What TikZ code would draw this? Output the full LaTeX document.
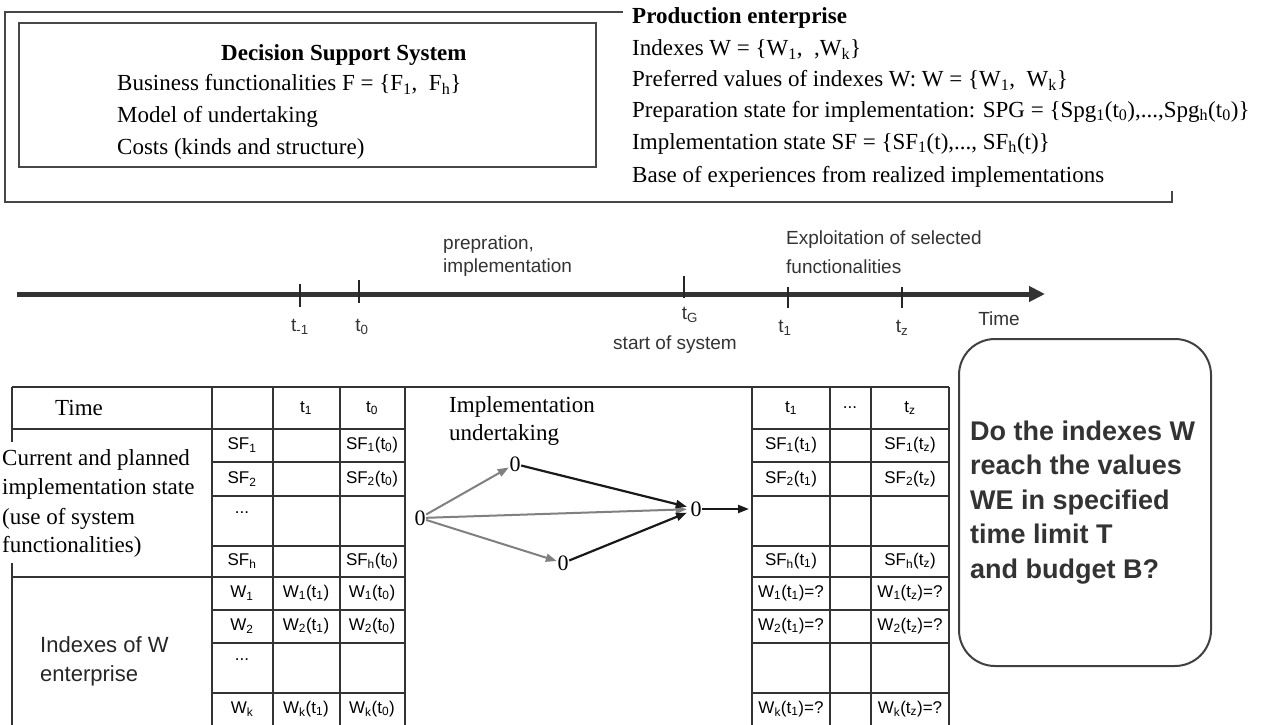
\documentclass[tikz,border=0pt]{standalone}
\usepackage{fontspec}
\setmainfont{Liberation Serif}
\setsansfont{Liberation Sans}
\usetikzlibrary{arrows.meta}
\newcommand\sbs[1]{\textsubscript{#1}}
\newcommand\tdots{...}
\begin{document}
\begin{tikzpicture}[x=1pt,y=-1pt,
  frm/.style={draw=black!72, line width=2pt},
  tline/.style={draw=black!80, line width=1.6pt},
  sertext/.style={font=\fontsize{23}{28}\selectfont, inner sep=0pt, anchor=base west},
  tl/.style={font=\sffamily\fontsize{19}{23}\selectfont, text=black!80, inner sep=0pt},
  cell/.style={font=\sffamily\fontsize{17}{20}\selectfont, inner sep=0pt},
  knot/.style={font=\fontsize{22}{26}\selectfont, inner sep=0.5pt},
  garr/.style={draw=black!50, line width=2pt, -{Triangle[length=11pt,width=8pt]}},
  barr/.style={draw=black!90, line width=2.2pt, -{Triangle[length=11pt,width=8pt]}},
  qtext/.style={font=\sffamily\bfseries\fontsize{27}{33}\selectfont, text=black!80, inner sep=0pt, anchor=base west},
  ixtext/.style={font=\sffamily\fontsize{22}{26}\selectfont, text=black!85, inner sep=0pt, anchor=base west},
]
\useasboundingbox (0,0) rectangle (1285,725);

% ---------- top frame ----------
\coordinate (fa) at (623,12);
\coordinate (fb) at (1172,191);
\draw[frm] (fa) -- (5,12) -- (5,202) -- (1172,202) -- (fb);
\node[frm, draw, minimum width=577, minimum height=144, anchor=north west, inner sep=0pt] (dss) at (18,22) {};

\node[sertext] (dss0) at (221,60) {\bfseries Decision Support System};
\node[sertext] (dss1) at (117,91) {Business functionalities F = \{F\sbs{1}, \ F\sbs{h}\}};
\node[sertext] (dss2) at (117,122) {Model of undertaking};
\node[sertext] (dss3) at (117,154) {Costs (kinds and structure)};

\node[sertext] (pe0) at (632,24) {\bfseries Production enterprise};
\node[sertext] (pe1) at (632,56) {Indexes W = \{W\sbs{1}, \ ,W\sbs{k}\}};
\node[sertext] (pe2) at (632,87) {Preferred values of indexes W: W = \{W\sbs{1}, \ W\sbs{k}\}};
\node[sertext] (pe3) at (632,117) {Preparation state for implementation: SPG = \{Spg\sbs{1}(t\sbs{0}),\tdots,Spg\sbs{h}(t\sbs{0})\}};
\node[sertext] (pe4) at (632,149) {Implementation state SF = \{SF\sbs{1}(t),\tdots, SF\sbs{h}(t)\}};
\node[sertext] (pe5) at (632,182) {Base of experiences from realized implementations};

% ---------- time line ----------
\coordinate (tls) at (17,294);
\coordinate (tle) at (1045,294);
\draw[line width=5pt, draw=black!80, -{Triangle[length=16pt,width=15pt]}] (tls) -- (tle);
\foreach \x/\a/\b in {300/284/307, 359/280/303, 684/276/298, 788/287/308, 902/287/308}
  \draw[line width=2pt, draw=black!85] (\x,\a) -- (\x,\b);
\node[tl] (lm1) at (300,327) {t\sbs{-1}};
\node[tl] (l0) at (362,327) {t\sbs{0}};
\node[tl] (lg) at (690,315) {t\sbs{G}};
\node[tl] (lss) at (675,345) {start of system};
\node[tl] (l1) at (785,328) {t\sbs{1}};
\node[tl] (lz) at (902,328) {t\sbs{z}};
\node[tl] (ltime) at (999,319) {Time};
\node[tl, anchor=west] (prep1) at (443,245) {prepration,};
\node[tl, anchor=west] (prep2) at (443,268) {implementation};
\node[tl, anchor=west] (expl1) at (786,240) {Exploitation of selected};
\node[tl, anchor=west] (expl2) at (786,267) {functionalities};

% ---------- table ----------
\draw[tline] (12,387) -- (949,387);
\draw[tline] (12,387) -- (12,442);
\draw[tline] (12,563) -- (12,725);
\foreach \x in {212,273,340,405,752,830,871,949} \draw[tline] (\x,387) -- (\x,725);
\draw[tline] (12,429) -- (405,429);
\draw[tline] (752,429) -- (949,429);
\draw[tline] (12,577) -- (405,577);
\draw[tline] (752,577) -- (949,577);
\foreach \y in {462,496,546,610,643,693} {
  \draw[tline] (212,\y) -- (405,\y);
  \draw[tline] (752,\y) -- (949,\y);
}

\node[sertext] (htime) at (55,415) {Time};
\node[sertext] (cp1) at (2,465) {Current and planned};
\node[sertext] (cp2) at (2,494) {implementation state};
\node[sertext] (cp3) at (2,524) {(use of system};
\node[sertext] (cp4) at (2,552) {functionalities)};
\node[ixtext] (ix1) at (40,652) {Indexes of W};
\node[ixtext] (ix2) at (40,681) {enterprise};

% headers
\node[cell] (h2) at (306,408) {t\sbs{1}};
\node[cell] (h3) at (372,408) {t\sbs{0}};
\node[cell] (g1) at (791,408) {t\sbs{1}};
\node[cell] (g2) at (850,408) {\tdots};
\node[cell] (g3) at (910,408) {t\sbs{z}};

% left table cells
\foreach \y/\t [count=\i] in {445/SF\sbs{1}, 479/SF\sbs{2}, 513/\tdots, 561/SF\sbs{h}, 593/W\sbs{1}, 626/W\sbs{2}, 660/\tdots, 709/W\sbs{k}}
  \node[cell] (a\i) at (242,\y) {\t};
\foreach \y/\t [count=\i] in {593/W\sbs{1}(t\sbs{1}), 626/W\sbs{2}(t\sbs{1}), 709/W\sbs{k}(t\sbs{1})}
  \node[cell] (b\i) at (306,\y) {\t};
\foreach \y/\t [count=\i] in {445/SF\sbs{1}(t\sbs{0}), 479/SF\sbs{2}(t\sbs{0}), 561/SF\sbs{h}(t\sbs{0}), 593/W\sbs{1}(t\sbs{0}), 626/W\sbs{2}(t\sbs{0}), 709/W\sbs{k}(t\sbs{0})}
  \node[cell] (c\i) at (372,\y) {\t};
% right table cells
\foreach \y/\t [count=\i] in {445/SF\sbs{1}(t\sbs{1}), 479/SF\sbs{2}(t\sbs{1}), 561/SF\sbs{h}(t\sbs{1}), 593/W\sbs{1}(t\sbs{1})=?, 626/W\sbs{2}(t\sbs{1})=?, 709/W\sbs{k}(t\sbs{1})=?}
  \node[cell] (d\i) at (791,\y) {\t};
\foreach \y/\t [count=\i] in {445/SF\sbs{1}(t\sbs{z}), 479/SF\sbs{2}(t\sbs{z}), 561/SF\sbs{h}(t\sbs{z}), 593/W\sbs{1}(t\sbs{z})=?, 626/W\sbs{2}(t\sbs{z})=?, 709/W\sbs{k}(t\sbs{z})=?}
  \node[cell] (e\i) at (910,\y) {\t};

% ---------- implementation undertaking ----------
\node[sertext] (iu1) at (449,412) {Implementation};
\node[sertext] (iu2) at (449,440) {undertaking};
\node[knot] (n0) at (420,518) {0};
\node[knot] (n1) at (515,464) {0};
\node[knot] (n2) at (563,563) {0};
\node[knot] (n3) at (696,509) {0};
\coordinate (nout) at (749,509);
\draw[garr] (n0) -- (n1);
\draw[garr] (n0) -- (n2);
\draw[garr, shorten >=3pt] (n0) -- (n3);
\draw[barr, shorten >=3pt] (n1) -- (n3);
\draw[barr, shorten >=3pt] (n2) -- (n3);
\draw[barr] (n3) -- (nout);

% ---------- question box ----------
\node[draw=black!75, line width=2pt, rounded corners=36pt, minimum width=252, minimum height=327, anchor=north west, inner sep=0pt] (qbox) at (958,338) {};
\node[qtext] (q1) at (970,440) {Do the indexes W};
\node[qtext] (q2) at (970,474.5) {reach the values};
\node[qtext] (q3) at (970,509) {WE in specified};
\node[qtext] (q4) at (970,543.5) {time limit T};
\node[qtext] (q5) at (970,578) {and budget B?};
\end{tikzpicture}
\end{document}
